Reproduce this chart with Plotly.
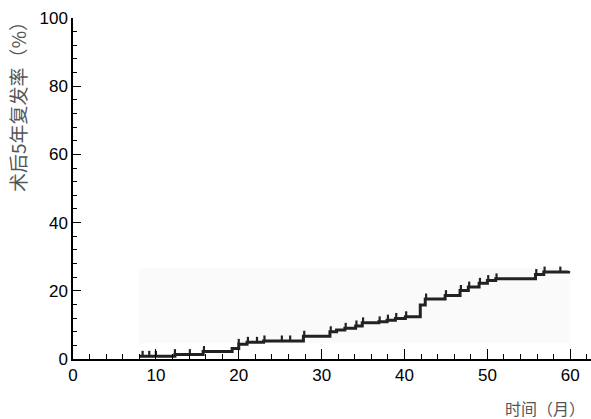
import plotly.graph_objects as go

# Kaplan-Meier style cumulative recurrence (step) data
step_time = [8, 12.3, 15.7, 19.2, 20.0, 21.0, 23.0, 27.8, 31.0, 31.8, 32.8, 34.1, 34.9,
             36.9, 37.9, 38.9, 40.1, 41.9, 42.5, 44.9, 46.7, 47.7, 49.0, 50.0, 51.0,
             55.8, 56.8, 59.8]
step_rate = [0.8, 1.3, 2.2, 3.1, 4.3, 4.9, 5.3, 6.7, 8.0, 8.5, 9.0, 9.7, 10.6,
             10.9, 11.4, 11.9, 12.4, 15.8, 17.6, 18.6, 20.1, 21.1, 22.2, 23.0, 23.5,
             24.8, 25.5, 25.8]

censor_time = [8.4, 9.2, 10.0, 12.3, 14.1, 15.8, 20.0, 21.1, 22.2, 23.1, 25.2, 26.2,
               27.9, 31.1, 32.9, 34.2, 35.0, 37.0, 38.0, 39.0, 40.2, 42.6, 45.0, 46.8,
               47.8, 49.1, 50.1, 51.1, 55.9, 56.9, 58.8]

x_ticks = [0, 10, 20, 30, 40, 50, 60]
y_ticks = [0, 20, 40, 60, 80, 100]
y_title = "术后5年复发率（%）"
x_title = "时间（月）"


def rate_at(t):
    v = step_rate[0]
    for tt, rr in zip(step_time, step_rate):
        if tt <= t + 1e-9:
            v = rr
    return v


censor_rate = [rate_at(t) for t in censor_time]

fig = go.Figure()

fig.add_shape(type="rect", x0=8, x1=60, y0=4.6, y1=26.7, xref="x", yref="y",
              fillcolor="#fafafa", line=dict(width=0), layer="below")

fig.add_trace(go.Scatter(x=step_time, y=step_rate, mode="lines",
                         line=dict(shape="hv", color="#222222", width=3),
                         hoverinfo="skip", showlegend=False))

fig.add_trace(go.Scatter(x=censor_time, y=censor_rate, mode="markers",
                         marker=dict(size=1, color="rgba(0,0,0,0)"),
                         error_y=dict(type="data", symmetric=False,
                                      array=[1.6] * len(censor_time),
                                      arrayminus=[0] * len(censor_time),
                                      width=0, thickness=2.2, color="#222222"),
                         hoverinfo="skip", showlegend=False))

font_main = "Liberation Sans, Arial, sans-serif"

fig.update_layout(
    width=591, height=419,
    margin=dict(l=73, r=0, t=18, b=60, autoexpand=False),
    paper_bgcolor="white", plot_bgcolor="rgba(0,0,0,0)",
    showlegend=False,
    xaxis=dict(range=[0, 62.5], tickvals=x_ticks, ticktext=[str(v) for v in x_ticks],
               automargin=False,
               ticks="inside", ticklen=10, tickwidth=1.3, tickcolor="black",
               minor=dict(dtick=2, ticks="inside", ticklen=5, tickwidth=1.2, tickcolor="black"),
               showline=True, linecolor="black", linewidth=1.5,
               showgrid=False, zeroline=False,
               tickfont=dict(family=font_main, size=17, color="black")),
    yaxis=dict(range=[0, 100], tickvals=y_ticks, ticktext=[str(v) for v in y_ticks],
               automargin=False,
               ticks="inside", ticklen=8, tickwidth=1.3, tickcolor="black",
               minor=dict(dtick=4, ticks="inside", ticklen=4, tickwidth=1.2, tickcolor="black"),
               showline=True, linecolor="black", linewidth=1.5,
               showgrid=False, zeroline=False,
               tickfont=dict(family=font_main, size=17, color="black")),
    annotations=[
        dict(text=y_title, xref="paper", yref="paper", x=-0.106, y=0.754,
             textangle=-90, showarrow=False, xanchor="center", yanchor="middle",
             font=dict(family="Noto Sans CJK SC", size=19, color="#555555")),
        dict(text=x_title, xref="paper", yref="paper", x=0.992, y=-0.144,
             showarrow=False, xanchor="right", yanchor="middle",
             font=dict(family="Noto Sans CJK SC", size=16, color="#555555")),
    ],
)

fig.write_html("out.html", config={"displayModeBar": False},
               post_script="document.body.style.margin='0';")
